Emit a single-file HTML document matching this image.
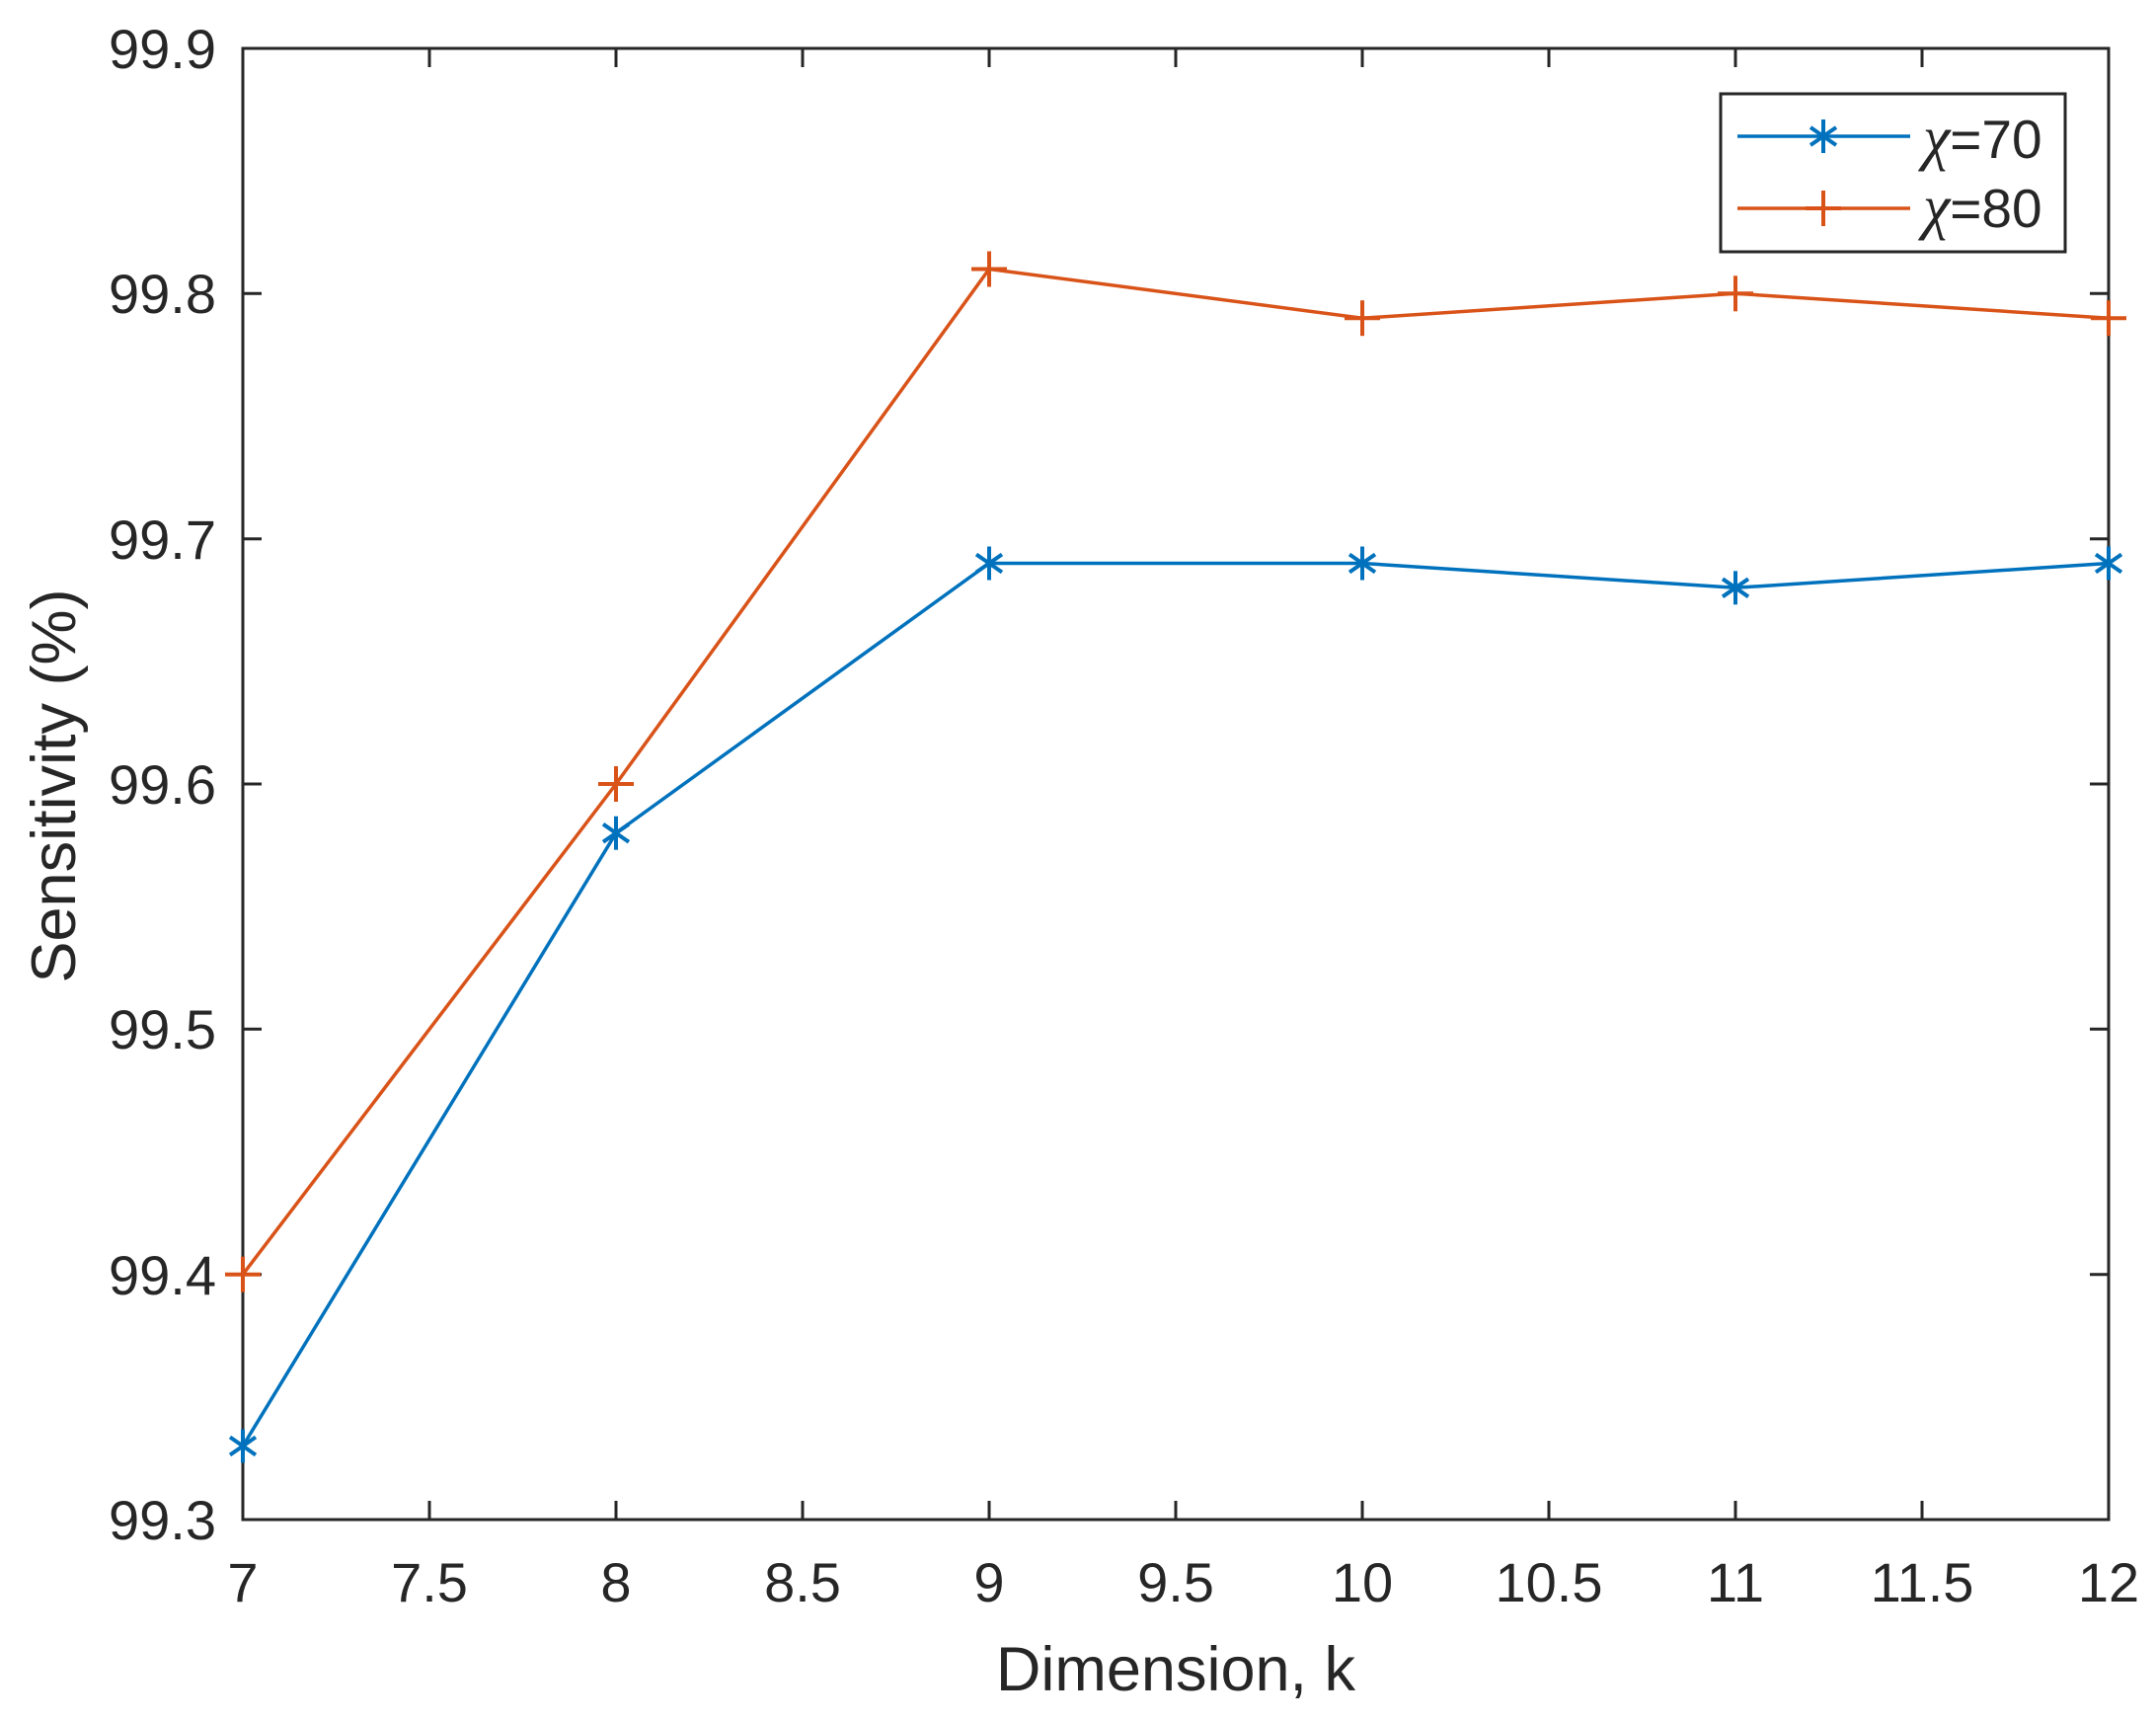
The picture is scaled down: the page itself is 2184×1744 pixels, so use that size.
<!DOCTYPE html>
<html><head><style>
html,body{margin:0;padding:0;background:#fff;}
svg{display:block;}
text{font-family:"Liberation Sans",Arial,sans-serif;fill:#262626;}
</style></head><body>
<svg width="2184" height="1744" viewBox="0 0 2184 1744" xmlns="http://www.w3.org/2000/svg">
<rect width="2184" height="1744" fill="#fff"/>
<defs>
<g id="star" stroke="#0072BD" stroke-width="4" fill="none">
<line x1="0" y1="-17" x2="0" y2="17"/><line x1="-13" y1="-9" x2="13" y2="9"/><line x1="-13" y1="9" x2="13" y2="-9"/>
</g>
<g id="plus" stroke="#D95319" stroke-width="4" fill="none">
<line x1="0" y1="-18" x2="0" y2="18"/><line x1="-18" y1="0" x2="18" y2="0"/>
</g>
</defs>
<g stroke="#262626" stroke-width="3">
<line x1="435" y1="1539" x2="435" y2="1520"/><line x1="435" y1="49" x2="435" y2="68"/>
<line x1="624" y1="1539" x2="624" y2="1520"/><line x1="624" y1="49" x2="624" y2="68"/>
<line x1="813" y1="1539" x2="813" y2="1520"/><line x1="813" y1="49" x2="813" y2="68"/>
<line x1="1002" y1="1539" x2="1002" y2="1520"/><line x1="1002" y1="49" x2="1002" y2="68"/>
<line x1="1191" y1="1539" x2="1191" y2="1520"/><line x1="1191" y1="49" x2="1191" y2="68"/>
<line x1="1380" y1="1539" x2="1380" y2="1520"/><line x1="1380" y1="49" x2="1380" y2="68"/>
<line x1="1569" y1="1539" x2="1569" y2="1520"/><line x1="1569" y1="49" x2="1569" y2="68"/>
<line x1="1758" y1="1539" x2="1758" y2="1520"/><line x1="1758" y1="49" x2="1758" y2="68"/>
<line x1="1947" y1="1539" x2="1947" y2="1520"/><line x1="1947" y1="49" x2="1947" y2="68"/>
<line x1="246" y1="1290.7" x2="265" y2="1290.7"/><line x1="2136" y1="1290.7" x2="2117" y2="1290.7"/>
<line x1="246" y1="1042.3" x2="265" y2="1042.3"/><line x1="2136" y1="1042.3" x2="2117" y2="1042.3"/>
<line x1="246" y1="794" x2="265" y2="794"/><line x1="2136" y1="794" x2="2117" y2="794"/>
<line x1="246" y1="545.7" x2="265" y2="545.7"/><line x1="2136" y1="545.7" x2="2117" y2="545.7"/>
<line x1="246" y1="297.3" x2="265" y2="297.3"/><line x1="2136" y1="297.3" x2="2117" y2="297.3"/>
</g>
<rect x="246" y="49" width="1890" height="1490" fill="none" stroke="#262626" stroke-width="3"/>
<g font-size="56" text-anchor="middle">
<text x="246" y="1622">7</text><text x="435" y="1622">7.5</text><text x="624" y="1622">8</text>
<text x="813" y="1622">8.5</text><text x="1002" y="1622">9</text><text x="1191" y="1622">9.5</text>
<text x="1380" y="1622">10</text><text x="1569" y="1622">10.5</text><text x="1758" y="1622">11</text>
<text x="1947" y="1622">11.5</text><text x="2136" y="1622">12</text>
</g>
<g font-size="56" text-anchor="end">
<text x="219" y="1559">99.3</text><text x="219" y="1311">99.4</text><text x="219" y="1062">99.5</text>
<text x="219" y="814">99.6</text><text x="219" y="566">99.7</text><text x="219" y="317">99.8</text>
<text x="219" y="69">99.9</text>
</g>
<text x="1191" y="1712" font-size="63" text-anchor="middle">Dimension, k</text>
<text transform="translate(76,796) rotate(-90)" font-size="63" text-anchor="middle">Sensitivity (%)</text>
<polyline points="246,1290.7 624,794 1002,272.5 1380,322.2 1758,297.3 2136,322.2" fill="none" stroke="#D95319" stroke-width="3.5"/>
<polyline points="246,1464.5 624,843.7 1002,570.5 1380,570.5 1758,595.3 2136,570.5" fill="none" stroke="#0072BD" stroke-width="3.5"/>
<use href="#plus" x="246" y="1290.7"/><use href="#plus" x="624" y="794"/><use href="#plus" x="1002" y="272.5"/>
<use href="#plus" x="1380" y="322.2"/><use href="#plus" x="1758" y="297.3"/><use href="#plus" x="2136" y="322.2"/>
<use href="#star" x="246" y="1464.5"/><use href="#star" x="624" y="843.7"/><use href="#star" x="1002" y="570.5"/>
<use href="#star" x="1380" y="570.5"/><use href="#star" x="1758" y="595.3"/><use href="#star" x="2136" y="570.5"/>
<rect x="1743" y="95" width="349" height="160" fill="#fff" stroke="#262626" stroke-width="3"/>
<line x1="1760" y1="138" x2="1935" y2="138" stroke="#0072BD" stroke-width="3.5"/>
<use href="#star" x="1847" y="138"/>
<line x1="1760" y1="211" x2="1935" y2="211" stroke="#D95319" stroke-width="3.5"/>
<use href="#plus" x="1847" y="211"/>
<text x="1948" y="160" font-size="55"><tspan font-family="'Liberation Serif',serif" font-style="italic" font-size="62">χ</tspan>=70</text>
<text x="1948" y="230" font-size="55"><tspan font-family="'Liberation Serif',serif" font-style="italic" font-size="62">χ</tspan>=80</text>
</svg>
</body></html>
